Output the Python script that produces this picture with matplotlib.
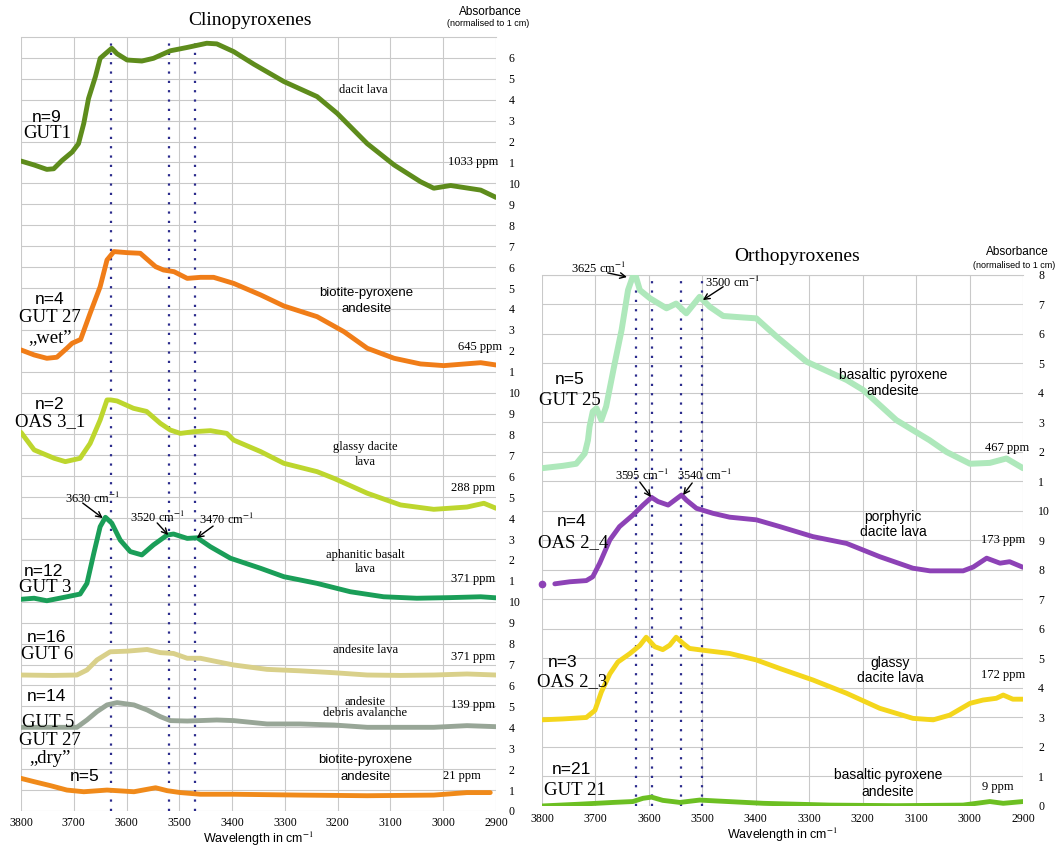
import numpy as np
import matplotlib
matplotlib.use('Agg')
import matplotlib.pyplot as plt

SERIF = ['Liberation Serif', 'DejaVu Serif']
SANS = ['Liberation Sans', 'DejaVu Sans']
plt.rcParams['font.family'] = SERIF
plt.rcParams['mathtext.fontset'] = 'stix'

# ---------------- Clinopyroxenes (left), y in stacked chart units ----------------
dacit_wn = [3800, 3775, 3751, 3738, 3722, 3703, 3691, 3681, 3672, 3659, 3650, 3640, 3628, 3618, 3599,
            3571, 3549, 3517, 3485, 3448, 3429, 3397, 3359, 3302, 3239, 3201, 3144, 3093, 3043, 3018,
            2986, 2929, 2900]
dacit_abs = [31.07, 30.88, 30.67, 30.7, 31.1, 31.5, 31.9, 32.87, 34.06, 35.1, 35.98, 36.2, 36.46, 36.2, 35.9,
             35.85, 35.98, 36.34, 36.5, 36.7, 36.67, 36.3, 35.7, 34.87, 34.15, 33.35, 31.9, 30.88, 30.08, 29.77,
             29.9, 29.68, 29.33]

wet_wn = [3800, 3775, 3751, 3732, 3713, 3703, 3687, 3669, 3650, 3637, 3624, 3599, 3574, 3545, 3530,
          3510, 3485, 3460, 3435, 3397, 3346, 3302, 3239, 3188, 3144, 3093, 3043, 2999, 2929, 2900]
wet_abs = [22.04, 21.8, 21.64, 21.69, 22.12, 22.36, 22.54, 23.79, 25.06, 26.34, 26.74, 26.69, 26.66, 26.02, 25.86,
           25.78, 25.46, 25.51, 25.51, 25.22, 24.67, 24.14, 23.63, 22.91, 22.12, 21.64, 21.37, 21.29, 21.43, 21.32]

glassy_wn = [3800, 3775, 3737, 3716, 3688, 3669, 3650, 3637, 3630, 3618, 3587, 3562, 3536, 3517, 3498,
             3473, 3441, 3410, 3397, 3346, 3302, 3239, 3207, 3144, 3081, 3018, 2955, 2923, 2900]
glassy_abs = [18.1, 17.26, 16.86, 16.7, 16.86, 17.57, 18.69, 19.65, 19.65, 19.6, 19.25, 19.1, 18.53, 18.21, 18.05,
              18.13, 18.18, 18.05, 17.73, 17.18, 16.62, 16.22, 15.9, 15.19, 14.63, 14.42, 14.53, 14.71, 14.47]

aph_wn = [3800, 3775, 3751, 3713, 3688, 3675, 3662, 3650, 3640, 3628, 3612, 3593, 3571, 3549, 3523,
          3511, 3485, 3466, 3441, 3403, 3346, 3302, 3239, 3176, 3113, 3050, 2986, 2929, 2900]
aph_abs = [10.12, 10.17, 10.05, 10.24, 10.37, 10.88, 12.32, 13.59, 14.04, 13.76, 12.95, 12.4, 12.24, 12.72, 13.19,
           13.24, 13.03, 13.06, 12.63, 12.08, 11.6, 11.2, 10.88, 10.48, 10.24, 10.17, 10.2, 10.24, 10.19]

and6_wn = [3800, 3740, 3694, 3675, 3656, 3631, 3599, 3561, 3536, 3511, 3485, 3460, 3429, 3397, 3334,
           3271, 3207, 3144, 3081, 3018, 2955, 2900]
and6_abs = [6.5, 6.48, 6.5, 6.74, 7.22, 7.61, 7.64, 7.72, 7.57, 7.53, 7.3, 7.3, 7.14, 6.98, 6.77,
            6.7, 6.61, 6.5, 6.48, 6.5, 6.55, 6.5]

deb_wn = [3800, 3740, 3694, 3675, 3656, 3637, 3618, 3586, 3561, 3536, 3517, 3485, 3429, 3397, 3334,
          3271, 3207, 3144, 3081, 3018, 2955, 2900]
deb_abs = [4.0, 4.0, 4.0, 4.35, 4.75, 5.07, 5.18, 5.07, 4.83, 4.51, 4.32, 4.3, 4.35, 4.32, 4.16,
           4.16, 4.11, 4.0, 4.0, 4.0, 4.08, 4.03]

dry_wn = [3800, 3775, 3744, 3713, 3681, 3637, 3586, 3545, 3523, 3498, 3460, 3397, 3271, 3144, 3018, 2955, 2911]
dry_abs = [1.56, 1.4, 1.21, 1.0, 0.92, 1.0, 0.92, 1.11, 0.97, 0.88, 0.8, 0.8, 0.76, 0.73, 0.76, 0.88, 0.88]

cpx_peaks = [3630, 3520, 3470]
cpx_ticks = list(range(0, 11)) + list(range(1, 11)) + list(range(1, 11)) + list(range(1, 7))

# ---------------- Orthopyroxenes (right) ----------------
gut25_wn = [3800, 3761, 3736, 3720, 3714, 3711, 3705, 3698, 3689, 3680, 3664, 3651, 3639, 3627, 3617,
            3598, 3567, 3549, 3530, 3505, 3486, 3461, 3424, 3399, 3361, 3305, 3230, 3199, 3137, 3075,
            3043, 2999, 2962, 2931, 2900]
gut25_abs = [11.45, 11.53, 11.6, 11.95, 12.4, 12.86, 13.37, 13.48, 13.08, 13.54, 15.0, 16.14, 17.49, 18.11, 17.49,
             17.21, 16.87, 17.03, 16.7, 17.26, 16.92, 16.61, 16.56, 16.53, 15.91, 15.06, 14.44, 14.1, 13.08, 12.4,
             12.0, 11.6, 11.63, 11.78, 11.45]

oas24_wn = [3800, 3776, 3748, 3717, 3705, 3692, 3673, 3655, 3630, 3611, 3595, 3583, 3564, 3539, 3530,
            3511, 3480, 3449, 3399, 3355, 3293, 3230, 3168, 3106, 3074, 3012, 2993, 2968, 2943, 2925, 2900]
oas24_abs = [7.53, 7.53, 7.6, 7.64, 7.77, 8.23, 9.02, 9.47, 9.86, 10.2, 10.46, 10.32, 10.2, 10.54, 10.37,
             10.09, 9.92, 9.79, 9.7, 9.47, 9.13, 8.9, 8.45, 8.06, 7.97, 7.97, 8.1, 8.4, 8.23, 8.28, 8.09]

oas23_wn = [3800, 3761, 3717, 3701, 3689, 3673, 3658, 3636, 3617, 3605, 3589, 3574, 3561, 3549, 3536,
            3524, 3499, 3449, 3399, 3355, 3293, 3230, 3168, 3106, 3068, 3037, 2999, 2975, 2950, 2937, 2919, 2900]
oas23_abs = [2.92, 2.95, 3.0, 3.24, 3.86, 4.48, 4.88, 5.16, 5.44, 5.72, 5.4, 5.3, 5.45, 5.72, 5.51,
             5.34, 5.28, 5.17, 4.95, 4.66, 4.27, 3.82, 3.31, 2.97, 2.92, 3.08, 3.48, 3.59, 3.65, 3.76, 3.62, 3.62]

gut21_wn = [3800, 3730, 3667, 3630, 3611, 3595, 3574, 3542, 3505, 3474, 3386, 3262, 3137, 3012, 2962, 2937, 2900]
gut21_abs = [0.0, 0.06, 0.12, 0.15, 0.26, 0.3, 0.19, 0.12, 0.2, 0.17, 0.09, 0.03, 0.01, 0.03, 0.15, 0.09, 0.15]

opx_peaks = [3625, 3595, 3540, 3500]
opx_ticks = list(range(0, 11)) + list(range(1, 9))

fig = plt.figure(figsize=(10.59, 8.5), dpi=100)
axL = fig.add_axes([0.0198, 0.0459, 0.4486, 0.9106])
axR = fig.add_axes([0.5118, 0.0518, 0.4542, 0.6247])


def setup(ax, ymax, ticks, pad, xpad):
    ax.set_xlim(3800, 2900)
    ax.set_ylim(0, ymax)
    ax.set_xticks(np.arange(3800, 2899, -100))
    ax.set_yticks(np.arange(0, len(ticks)))
    ax.set_yticklabels([str(t) for t in ticks])
    ax.yaxis.tick_right()
    ax.tick_params(length=0, labelsize=8.5)
    ax.tick_params(axis='y', pad=pad)
    ax.tick_params(axis='x', pad=xpad)
    ax.grid(True, color='#c9c9c9', lw=0.8)
    ax.set_axisbelow(True)
    for s in ax.spines.values():
        s.set_visible(False)
    ax.axhline(ymax, color='#c9c9c9', lw=0.8, clip_on=False)
    ax.set_xlabel('Wavelength in cm$^{-1}$', family=SANS, fontsize=9, labelpad=1)


setup(axL, 37, cpx_ticks, 9, 4)
setup(axR, 18, opx_ticks, 11, 5)

for p in cpx_peaks:
    axL.axvline(p, color='#2b2b8c', lw=1.6, ls=(0, (1, 3.2)), zorder=1)
for p in opx_peaks:
    axR.axvline(p, color='#2b2b8c', lw=1.6, ls=(0, (1, 3.2)), zorder=1)

lw = 3.5
axL.plot(dacit_wn, dacit_abs, color='#5e8c1c', lw=lw, solid_capstyle='round', solid_joinstyle='round')
axL.plot(wet_wn, wet_abs, color='#f07d18', lw=lw, solid_capstyle='round', solid_joinstyle='round')
axL.plot(glassy_wn, glassy_abs, color='#bdd62e', lw=lw, solid_capstyle='round', solid_joinstyle='round')
axL.plot(aph_wn, aph_abs, color='#1a9e58', lw=lw, solid_capstyle='round', solid_joinstyle='round')
axL.plot(and6_wn, and6_abs, color='#d9d08a', lw=lw, solid_capstyle='round', solid_joinstyle='round')
axL.plot(deb_wn, deb_abs, color='#98a697', lw=lw, solid_capstyle='round', solid_joinstyle='round')
axL.plot(dry_wn, dry_abs, color='#f08a1a', lw=lw, solid_capstyle='round', solid_joinstyle='round')

axR.plot(gut25_wn, gut25_abs, color='#aee8bb', lw=4.3, solid_capstyle='round', solid_joinstyle='round')
axR.plot(oas24_wn[1:], oas24_abs[1:], color='#8d42b6', lw=lw, solid_capstyle='round', solid_joinstyle='round')
axR.plot(oas24_wn[:1], oas24_abs[:1], 'o', color='#8d42b6', ms=4.5, clip_on=False)
axR.plot(oas23_wn, oas23_abs, color='#f4d61c', lw=lw, solid_capstyle='round', solid_joinstyle='round')
axR.plot(gut21_wn, gut21_abs, color='#6cbf22', lw=lw, solid_capstyle='round', solid_joinstyle='round')


def txt(ax, x, y, s, fam, size, ha='center'):
    ax.text(x, y, s, family=fam, fontsize=size, ha=ha, va='center', clip_on=False)


# sample labels
for ax, items in [
    (axL, [(3751, 33.15, 'n=9', SANS, 12.5), (3751, 32.4, 'GUT1', SERIF, 13.5),
           (3745, 24.45, 'n=4', SANS, 12.5), (3745, 23.61, 'GUT 27', SERIF, 13.5),
           (3745, 22.62, '\u201ewet\u201d', SERIF, 13.5),
           (3745, 19.45, 'n=2', SANS, 12.5), (3745, 18.6, 'OAS 3_1', SERIF, 13.5),
           (3758, 11.45, 'n=12', SANS, 12.5), (3754, 10.7, 'GUT 3', SERIF, 13.5),
           (3751, 8.3, 'n=16', SANS, 12.5), (3751, 7.5, 'GUT 6', SERIF, 13.5),
           (3751, 5.45, 'n=14', SANS, 12.5), (3748, 4.25, 'GUT 5', SERIF, 13.5),
           (3745, 3.39, 'GUT 27', SERIF, 13.5), (3745, 2.53, '\u201edry\u201d', SERIF, 13.5),
           (3679, 1.63, 'n=5', SANS, 12.5)]),
    (axR, [(3748, 14.44, 'n=5', SANS, 12.5), (3748, 13.76, 'GUT 25', SERIF, 13.5),
           (3744, 9.63, 'n=4', SANS, 12.5), (3742, 8.92, 'OAS 2_4', SERIF, 13.5),
           (3761, 4.88, 'n=3', SANS, 12.5), (3744, 4.2, 'OAS 2_3', SERIF, 13.5),
           (3744, 1.22, 'n=21', SANS, 12.5), (3738, 0.54, 'GUT 21', SERIF, 13.5)]),
]:
    for x, y, s, fam, size in items:
        txt(ax, x, y, s, fam, size)

rock_left = [(3152, 34.46, 'dacit lava', SERIF), (3145, 24.76, 'biotite-pyroxene', SANS),
             (3145, 24.0, 'andesite', SANS), (3148, 17.4, 'glassy dacite', SERIF),
             (3148, 16.68, 'lava', SERIF), (3148, 12.24, 'aphanitic basalt', SERIF),
             (3148, 11.57, 'lava', SERIF), (3148, 7.7, 'andesite lava', SERIF),
             (3148, 5.21, 'andesite', SERIF), (3148, 4.68, 'debris avalanche', SERIF),
             (3148, 2.44, 'biotite-pyroxene', SANS), (3148, 1.63, 'andesite', SANS)]
for x, y, s, fam in rock_left:
    txt(axL, x, y, s, fam, 9.5 if fam is SANS else 9)

rock_right = [(3143, 14.61, 'basaltic pyroxene'), (3143, 14.07, 'andesite'),
              (3143, 9.8, 'porphyric'), (3143, 9.29, 'dacite lava'),
              (3149, 4.85, 'glassy'), (3149, 4.34, 'dacite lava'),
              (3153, 1.05, 'basaltic pyroxene'), (3153, 0.47, 'andesite')]
for x, y, s in rock_right:
    txt(axR, x, y, s, SANS, 10)

ppm_left = [(2944, 31.02, '1033 ppm'), (2931, 22.18, '645 ppm'), (2944, 15.44, '288 ppm'),
            (2944, 11.09, '371 ppm'), (2944, 7.36, '371 ppm'), (2944, 5.07, '139 ppm'),
            (2965, 1.67, '21 ppm')]
for x, y, s in ppm_left:
    txt(axL, x, y, s, SERIF, 9)
ppm_right = [(2930, 12.14, '467 ppm'), (2937, 9.02, '173 ppm'), (2937, 4.44, '172 ppm'), (2947, 0.64, '9 ppm')]
for x, y, s in ppm_right:
    txt(axR, x, y, s, SERIF, 9)

# peak annotations: (label, text x, text y, arrow tail, arrow head)
ann_left = [('3630', 3665, 14.96, (3683, 14.72), (3645, 14.0)),
            ('3520', 3542, 14.05, (3542, 13.77), (3521, 13.19)),
            ('3470', 3410, 13.96, (3436, 13.62), (3467, 13.05))]
ann_right = [('3625', 3695, 18.22, (3677, 18.07), (3641, 17.93)),
             ('3500', 3444, 17.73, (3461, 17.6), (3499, 17.15)),
             ('3595', 3613, 11.22, (3617, 10.98), (3596, 10.47)),
             ('3540', 3495, 11.19, (3519, 10.95), (3536, 10.54))]
for ax, anns in [(axL, ann_left), (axR, ann_right)]:
    for lab, tx, ty, tail, head in anns:
        ax.text(tx, ty, lab + ' cm$^{-1}$', family=SERIF, fontsize=9, ha='center', va='center')
        ax.annotate('', xy=head, xytext=tail,
                    arrowprops=dict(arrowstyle='->', color='black', lw=1.0, shrinkA=0, shrinkB=0))

# titles
fig.text(0.236, 0.976, 'Clinopyroxenes', family=SERIF, fontsize=14, ha='center', va='center')
fig.text(0.463, 0.986, 'Absorbance', family=SANS, fontsize=8.5, ha='center', va='center')
fig.text(0.461, 0.972, '(normalised to 1 cm)', family=SANS, fontsize=6.5, ha='center', va='center')
fig.text(0.753, 0.698, 'Orthopyroxenes', family=SERIF, fontsize=14, ha='center', va='center')
fig.text(0.961, 0.703, 'Absorbance', family=SANS, fontsize=8.5, ha='center', va='center')
fig.text(0.958, 0.688, '(normalised to 1 cm)', family=SANS, fontsize=6.5, ha='center', va='center')

fig.savefig('out.png', dpi=100)
